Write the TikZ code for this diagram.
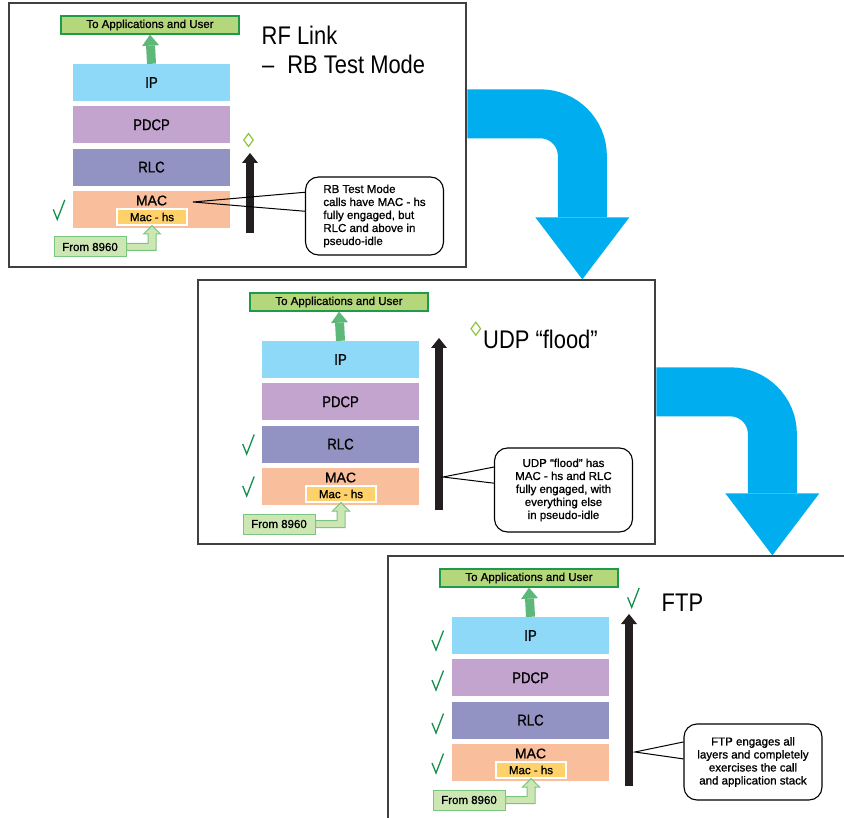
\documentclass[tikz,border=0pt]{standalone}
\usepackage{fontspec}
\setmainfont{Liberation Sans}[FakeBold=1]
\newfontfamily\condensed{Liberation Sans}[FakeStretch=0.85,FakeBold=0.8]
\newfontfamily\titlefont{Liberation Sans}[FakeStretch=0.86]
\usetikzlibrary{arrows.meta,calc,shapes.geometric}

\definecolor{ipblue}{HTML}{8ED8F8}
\definecolor{pdcppurple}{HTML}{C3A4CF}
\definecolor{rlcblue}{HTML}{9393C3}
\definecolor{macpeach}{HTML}{F9BF9C}
\definecolor{hsyellow}{HTML}{FED16A}
\definecolor{appgreen}{HTML}{B5D77B}
\definecolor{appborder}{HTML}{1E9A48}
\definecolor{upgreen}{HTML}{5DB87A}
\definecolor{fromgreen}{HTML}{CDE7B4}
\definecolor{fromborder}{HTML}{7BC67F}
\definecolor{flowblue}{HTML}{00AEEF}
\definecolor{tickgreen}{HTML}{13904A}
\definecolor{diamondgreen}{HTML}{8DC63F}
\definecolor{stackblack}{HTML}{231F20}

\tikzset{
  panel/.style={draw=black!75, line width=1.3pt, fill=white, minimum width=457pt, minimum height=264pt, inner sep=0pt},
  appbox/.style={draw=appborder, line width=1.3pt, fill=appgreen, minimum width=178pt, minimum height=18pt, inner sep=0pt, font=\fontsize{11.5}{12}\selectfont},
  layer/.style={minimum width=157pt, minimum height=37pt, inner sep=0pt, font=\condensed\fontsize{15.5}{16}\selectfont},
  maclabel/.style={inner sep=0pt, font=\fontsize{14}{14}\selectfont},
  hsbox/.style={draw=white, line width=1.2pt, fill=hsyellow, minimum width=70pt, minimum height=16pt, inner sep=0pt, font=\fontsize{11.5}{12}\selectfont},
  frombox/.style={draw=fromborder, line width=1pt, fill=fromgreen, minimum width=72pt, minimum height=20pt, inner sep=0pt, font=\fontsize{11.5}{12}\selectfont},
  hollowarrow/.style={draw=fromborder, line width=1pt, fill=fromgreen},
  greenup/.style={draw=upgreen, line width=9pt, -{Triangle[width=17pt,length=11pt,line width=0pt]}},
  blackup/.style={draw=stackblack, line width=8pt, -{Triangle[width=16pt,length=10pt,line width=0pt]}},
  flow/.style={draw=flowblue, line width=49pt, rounded corners=42pt, -{Triangle[width=94pt,length=62pt,line width=0pt]}},
  title/.style={anchor=base west, inner sep=0pt, font=\titlefont\fontsize{25.5}{29}\selectfont},
  note/.style={draw, line width=1.1pt, rounded corners=13pt, minimum width=138pt, inner sep=0pt, font=\fontsize{11.5}{13}\selectfont},
  pointer/.style={draw, line width=1pt},
  hollowdiamond/.style={diamond, draw=diamondgreen, line width=1.2pt, inner sep=0pt, minimum width=10pt, minimum height=13.5pt},
  pics/tick/.style={code={\draw[tickgreen, line width=1.3pt] (-4,-10) -- (0,0) -- (7.5,-19.5);}},
  % one protocol stack with its frame, in the panel's own coordinates
  pics/layerstack/.style={code={
    \node[panel] (-frame) at (228.5,132) {};
    \node[appbox] (-app) at (141,22) {To Applications and User};
    \foreach \lname/\ltext/\lcol [count=\i from 0] in {ip/IP/ipblue, pdcp/PDCP/pdcppurple, rlc/RLC/rlcblue, mac/{}/macpeach}
      \node[layer, fill=\lcol] (-\lname) at (142.5,79.5+42.3*\i) {\ltext};
    \node[maclabel] (-maclbl) at (142.5,197.5) {MAC};
    \node[hsbox] (-hs) at (143,214) {Mac - hs};
    \node[frombox] (-from) at (81,244) {From 8960};
    \draw[greenup] (-ip.north) -- (-app.south);
    \draw[hollowarrow] ([yshift=3.5pt]-from.east) -- (139,240.5) -- (139,231) -- (134.5,231)
      -- (-hs.south) -- (151.5,231) -- (147,231) -- (147,247.5) -- ([yshift=-3.5pt]-from.east) -- cycle;
    \coordinate (-base) at (241,230);
  }}
}

\begin{document}
\begin{tikzpicture}[x=1pt,y=-1pt]
  \useasboundingbox (0,0) rectangle (844,818);
  \clip (0,0) rectangle (844,818);
  \fill[white] (0,0) rectangle (844,818);

  % RF link - RB test mode
  \begin{scope}[shift={(9,3)}]
    \pic (p1) {layerstack};
    \coordinate (p1-top) at (241,150);
    \draw[blackup] (p1-base) -- (p1-top);
    \node[hollowdiamond] (p1-diamond) at (239.5,137) {};
    \pic at (48.3,216.4) {tick};
    \node[title] (p1-title) at (252.5,42) {RF Link};
    \node[title] (p1-subtitle) at (253,71) {–\hspace{13pt}RB Test Mode};
    \node[note, minimum height=78pt, align=left] (p1-note) at (365.5,213)
      {RB Test Mode\\calls have MAC - hs\\fully engaged, but\\RLC and above in\\pseudo-idle};
    \coordinate (p1-tip) at (184,199);
    \draw[pointer] ($(p1-note.north west)!0.2!(p1-note.south west)$) -- (p1-tip)
      -- ($(p1-note.north west)!0.44!(p1-note.south west)$);
  \end{scope}

  % UDP flood
  \begin{scope}[shift={(198,280)}]
    \pic (p2) {layerstack};
    \coordinate (p2-top) at (241,58);
    \draw[blackup] (p2-base) -- (p2-top);
    \node[hollowdiamond] (p2-diamond) at (277.8,48.7) {};
    \pic at (48.7,174) {tick};
    \pic at (48.7,216) {tick};
    \node[title] (p2-title) at (285,69) {UDP “flood”};
    \node[note, minimum height=84pt, align=center] (p2-note) at (365.5,210)
      {UDP “flood” has\\MAC - hs and RLC\\fully engaged, with\\everything else\\in pseudo-idle};
    \coordinate (p2-tip) at (245,197);
    \draw[pointer] ($(p2-note.north west)!0.23!(p2-note.south west)$) -- (p2-tip)
      -- ($(p2-note.north west)!0.42!(p2-note.south west)$);
  \end{scope}

  % FTP
  \begin{scope}[shift={(388,556)}]
    \pic (p3) {layerstack};
    \coordinate (p3-top) at (241,58);
    \draw[blackup] (p3-base) -- (p3-top);
    \pic at (243.7,51.3) {tick};
    \foreach \y in {94,134,177,217}
      \pic at (48,\y) {tick};
    \node[title] (p3-title) at (273.5,55) {FTP};
    \node[note, minimum height=76pt, align=center] (p3-note) at (365,206)
      {FTP engages all\\layers and completely\\exercises the call\\and application stack};
    \coordinate (p3-tip) at (247,196);
    \draw[pointer] ($(p3-note.north west)!0.24!(p3-note.south west)$) -- (p3-tip)
      -- ($(p3-note.north west)!0.46!(p3-note.south west)$);
  \end{scope}

  % flow from one panel to the next
  \draw[flow] ([xshift=0.6pt,yshift=-111.5pt]p1-frame.north east) -| ([xshift=385pt]p2-frame.north west);
  \draw[flow] ([xshift=0.6pt,yshift=-112.5pt]p2-frame.north east) -| ([xshift=385pt]p3-frame.north west);
\end{tikzpicture}
\end{document}
